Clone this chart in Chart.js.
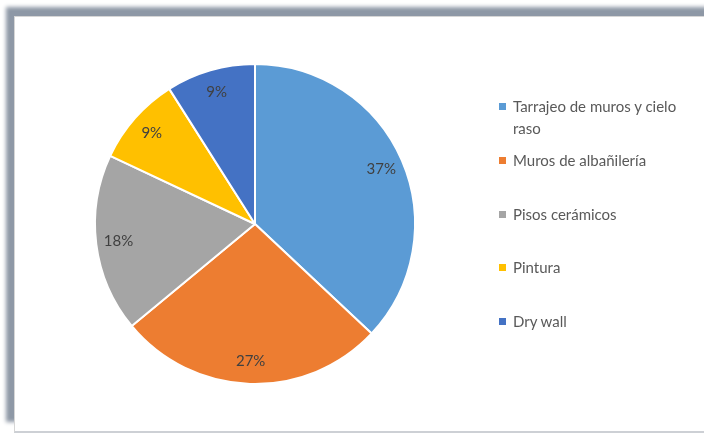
<!DOCTYPE html>
<html>
<head>
<meta charset="utf-8">
<script src="https://cdn.jsdelivr.net/npm/chart.js@4.4.1/dist/chart.umd.min.js"></script>
<style>
  body { margin: 0; background: #fff; width: 704px; height: 434px; overflow: hidden; position: relative; }
  #frame {
    position: absolute; left: 14px; top: 16px; width: 730px; height: 414px;
    border-top: 1px solid #d6d6d6; border-left: 1px solid #d6d6d6; border-bottom: 2px solid #cdd0d5;
    box-shadow: -9px -10px 4px -1px #8e98a6;
    background: #fff;
  }
  #wrap { position: absolute; left: 0; top: 0; width: 704px; height: 434px; }
  #legend { position: absolute; left: 498px; top: 95px; margin: 0; padding: 0; list-style: none;
    font-family: Lato, sans-serif; font-size: 15px; color: #595959; }
  #legend li { position: relative; padding-left: 15px; line-height: 22px; width: 190px; }
  #legend li span.box { position: absolute; left: 1px; top: 8px; width: 7px; height: 7px; }
</style>
</head>
<body>
<div id="frame"></div>
<div id="wrap"><canvas id="pieChart"></canvas></div>
<ul id="legend"></ul>
<script>
    /*global Chart*/
    var labels = ["Tarrajeo de muros y cielo raso", "Muros de albañilería", "Pisos cerámicos", "Pintura", "Dry wall"];
    var percents = [37, 27, 18, 9, 9];
    var colors = ["#5b9bd5", "#ed7d31", "#a5a5a5", "#ffc000", "#4472c4"];

    // legend gaps between items (first item wraps onto two lines)
    var legendTops = [0, 54, 108, 161, 215];

    var legend = document.getElementById("legend");
    labels.forEach(function (text, i) {
        var li = document.createElement("li");
        li.style.position = "absolute";
        li.style.top = legendTops[i] + "px";
        li.innerHTML = '<span class="box" style="background:' + colors[i] + '"></span>' + text;
        legend.appendChild(li);
    });

    // percentage text inside each slice
    var sliceLabels = {
        id: "sliceLabels",
        afterDatasetsDraw: function (chart) {
            var ctx = chart.ctx;
            var meta = chart.getDatasetMeta(0);
            ctx.save();
            ctx.font = '15px Lato, sans-serif';
            ctx.fillStyle = "#404040";
            ctx.textAlign = "center";
            ctx.textBaseline = "middle";
            meta.data.forEach(function (arc, i) {
                var p = arc.getProps(["x", "y", "startAngle", "endAngle", "outerRadius"], true);
                var mid = (p.startAngle + p.endAngle) / 2;
                var r = p.outerRadius * 0.86;
                ctx.fillText(percents[i] + "%", p.x + Math.cos(mid) * r, p.y + Math.sin(mid) * r);
            });
            ctx.restore();
        }
    };

    var pieData = {
        labels: labels,
        datasets: [{
            data: percents,
            backgroundColor: colors,
            borderColor: "#fff",
            borderWidth: 2
        }]
    };

    var pieOptions = {
        responsive: true,
        maintainAspectRatio: false,
        animation: false,
        layout: { padding: { left: 94, right: 288, top: 63, bottom: 49 } },
        plugins: { legend: { display: false }, tooltip: { enabled: false } }
    };

    var ctx = document.getElementById("pieChart").getContext("2d");
    new Chart(ctx, {type: 'pie', data: pieData, options: pieOptions, plugins: [sliceLabels]});
</script>
</body>
</html>
